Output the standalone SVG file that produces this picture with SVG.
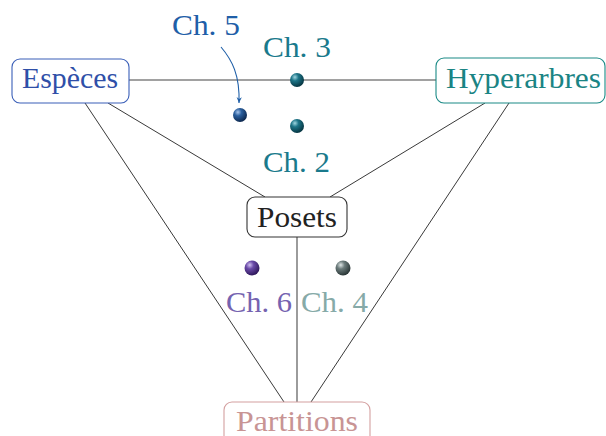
<svg xmlns="http://www.w3.org/2000/svg" width="606" height="436" viewBox="0 0 606 436">
<style>
text{font-family:"Liberation Serif","Times New Roman",serif;font-size:29.5px;}
.box{fill:#fff;stroke-width:1.1;}
.ln{stroke:#222;stroke-width:0.9;fill:none;}
</style>
<defs>
<radialGradient id="gTeal" cx="0.35" cy="0.3" r="0.75"><stop offset="0" stop-color="#9fd6e0"/><stop offset="0.35" stop-color="#1d7588"/><stop offset="1" stop-color="#04303c"/></radialGradient>
<radialGradient id="gBlue" cx="0.35" cy="0.3" r="0.75"><stop offset="0" stop-color="#a8c4ea"/><stop offset="0.35" stop-color="#2a5f9e"/><stop offset="1" stop-color="#0a2348"/></radialGradient>
<radialGradient id="gPurple" cx="0.35" cy="0.3" r="0.75"><stop offset="0" stop-color="#d0c0f0"/><stop offset="0.35" stop-color="#6a4aa8"/><stop offset="1" stop-color="#2a1454"/></radialGradient>
<radialGradient id="gGray" cx="0.35" cy="0.3" r="0.75"><stop offset="0" stop-color="#dfe6e6"/><stop offset="0.35" stop-color="#6c7c7c"/><stop offset="1" stop-color="#243030"/></radialGradient>
<marker id="arr" viewBox="0 0 10 10" refX="9" refY="5" markerWidth="6" markerHeight="6" orient="auto"><path d="M0,1 L9,5 L0,9 L3,5 Z" fill="#1f5fa8"/></marker>
</defs>
<g id="connectors">
<line class="ln" x1="129" y1="80" x2="436" y2="80" style="stroke:#444;stroke-width:1.1"/>
<line class="ln" x1="108" y1="103" x2="265" y2="197"/>
<line class="ln" x1="85" y1="103" x2="284" y2="402"/>
<line class="ln" x1="485" y1="103" x2="330" y2="197"/>
<line class="ln" x1="509" y1="103" x2="311" y2="402"/>
<line class="ln" x1="297" y1="237" x2="297" y2="402" style="stroke:#666;stroke-width:1.3"/>
<path d="M221,47 C232,60 240,75 239,103" fill="none" stroke="#1f5fa8" stroke-width="1.1" marker-end="url(#arr)"/>
</g>
<g id="especes">
<rect class="box" x="12" y="59" width="117" height="44" rx="8" stroke="#3a5fb8"/>
<text x="22" y="88" fill="#2f4fa8" textLength="96" lengthAdjust="spacingAndGlyphs">Espèces</text>
</g>
<g id="hyperarbres">
<rect class="box" x="436" y="58" width="169" height="45" rx="8" stroke="#1a8a86"/>
<text x="446" y="88" fill="#1a8484" textLength="155" lengthAdjust="spacingAndGlyphs">Hyperarbres</text>
</g>
<g id="posets">
<rect class="box" x="247" y="197" width="100" height="40" rx="8" stroke="#333"/>
<text x="257" y="227" fill="#222" textLength="80" lengthAdjust="spacingAndGlyphs">Posets</text>
</g>
<g id="partitions">
<rect class="box" x="224" y="402" width="146" height="46" rx="8" stroke="#d4a0a0"/>
<text x="236" y="431" fill="#c89494" textLength="122" lengthAdjust="spacingAndGlyphs">Partitions</text>
</g>
<g id="ch5">
<text x="172" y="35" fill="#1f5fa8" textLength="68" lengthAdjust="spacingAndGlyphs">Ch. 5</text>
<circle cx="240" cy="115" r="7" fill="url(#gBlue)"/>
</g>
<g id="ch3">
<text x="263" y="57" fill="#1a7a8c" textLength="68" lengthAdjust="spacingAndGlyphs">Ch. 3</text>
<circle cx="297" cy="80" r="7" fill="url(#gTeal)"/>
</g>
<g id="ch2">
<circle cx="297" cy="126" r="7" fill="url(#gTeal)"/>
<text x="263" y="172" fill="#1a7a8c" textLength="67" lengthAdjust="spacingAndGlyphs">Ch. 2</text>
</g>
<g id="ch6">
<circle cx="252" cy="268" r="7.5" fill="url(#gPurple)"/>
<text x="226" y="312" fill="#7563b0" textLength="66" lengthAdjust="spacingAndGlyphs">Ch. 6</text>
</g>
<g id="ch4">
<circle cx="343" cy="268" r="7.5" fill="url(#gGray)"/>
<text x="301" y="312" fill="#86aaa8" textLength="67" lengthAdjust="spacingAndGlyphs">Ch. 4</text>
</g>
</svg>
